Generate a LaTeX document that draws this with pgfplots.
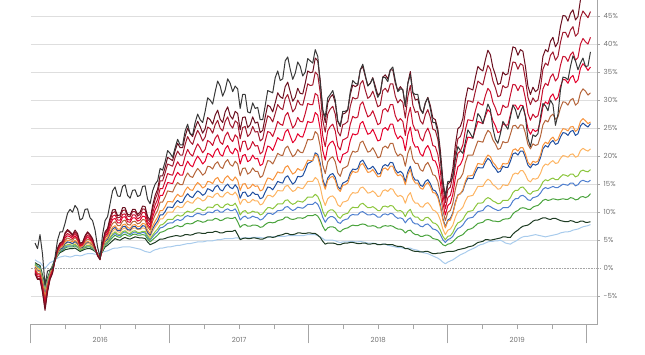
\documentclass[border=0pt]{standalone}
\usepackage{pgfplots}
\pgfplotsset{compat=1.18}
\usepackage{pgfplotstable}
\usepackage{fontspec}
\setmainfont{Poppins}
\definecolor{marc}{HTML}{6B1020}
\definecolor{drec}{HTML}{9E1A2E}
\definecolor{cric}{HTML}{C8102E}
\definecolor{redc}{HTML}{E4002B}
\definecolor{broc}{HTML}{B5653B}
\definecolor{orac}{HTML}{F7923A}
\definecolor{dblc}{HTML}{1F4EA0}
\definecolor{lorc}{HTML}{FDB462}
\definecolor{lgrc}{HTML}{8CC63E}
\definecolor{mblc}{HTML}{4F7FCF}
\definecolor{grec}{HTML}{4AA33D}
\definecolor{dgrc}{HTML}{1D3B22}
\definecolor{lblc}{HTML}{A8CBEC}
\definecolor{blkc}{HTML}{383838}
\pgfplotstableread{
t mar dre cri red bro ora dbl lor lgr mbl gre dgr lbl blk
2016.031 -1.0 -0.8 -0.6 -0.4 -0.2 0.1 0.2 0.4 0.6 0.6 0.8 1.0 1.5 4.5
2016.049 -2.0 -1.8 -1.5 -1.2 -0.9 -0.5 -0.4 -0.1 0.1 0.3 0.4 0.7 1.2 3.5
2016.067 -2.0 -1.8 -1.5 -1.2 -1.0 -0.6 -0.5 -0.3 -0.1 0.1 0.2 0.5 1.0 6.0
2016.085 -4.3 -4.0 -3.6 -3.3 -3.0 -2.6 -2.4 -2.2 -1.9 -1.8 -1.6 -1.2 0.5 2.5
2016.103 -7.5 -7.1 -6.6 -6.1 -5.6 -5.0 -4.7 -4.4 -4.0 -3.8 -3.5 -3.0 0.0 -3.0
2016.121 -4.3 -4.0 -3.8 -3.5 -3.2 -2.9 -2.7 -2.5 -2.3 -2.2 -2.0 -1.7 0.5 -0.5
2016.139 -2.0 -1.9 -1.7 -1.5 -1.4 -1.2 -1.1 -1.0 -0.8 -0.8 -0.7 -0.5 1.0 -0.3
2016.157 -0.9 -0.8 -0.6 -0.4 -0.3 -0.1 -0.1 0.1 0.2 0.2 0.3 0.5 1.2 0.0
2016.175 1.5 1.5 1.5 1.5 1.5 1.5 1.5 1.5 1.5 1.5 1.5 1.5 1.5 2.0
2016.193 3.6 3.5 3.3 3.2 3.0 2.8 2.7 2.6 2.5 2.4 2.3 2.2 1.8 5.0
2016.211 4.5 4.4 4.2 4.0 3.8 3.6 3.4 3.3 3.2 3.1 3.0 2.8 2.0 6.5
2016.229 4.8 4.7 4.5 4.3 4.1 3.9 3.6 3.6 3.5 3.3 3.2 3.0 2.1 6.5
2016.247 6.3 6.1 5.7 5.4 5.0 4.7 4.4 4.3 4.0 3.8 3.6 3.3 2.2 8.0
2016.265 6.9 6.7 6.2 5.8 5.4 5.0 4.7 4.6 4.2 4.0 3.8 3.4 2.1 9.8
2016.283 6.5 6.3 5.9 5.6 5.2 4.9 4.6 4.5 4.2 4.0 3.8 3.5 2.0 10.5
2016.301 6.0 5.8 5.6 5.3 5.0 4.7 4.4 4.4 4.1 4.0 3.8 3.5 2.1 10.0
2016.319 6.8 6.5 6.2 5.8 5.5 5.0 4.8 4.6 4.3 4.2 4.0 3.6 2.3 11.2
2016.337 6.2 5.9 5.6 5.2 5.0 4.6 4.4 4.2 3.9 3.8 3.7 3.3 2.3 10.6
2016.355 4.5 4.4 4.2 4.0 3.9 3.7 3.6 3.5 3.3 3.3 3.2 3.0 2.2 8.6
2016.373 4.6 4.5 4.3 4.2 4.1 3.9 3.7 3.7 3.5 3.5 3.4 3.2 2.3 8.9
2016.391 5.8 5.6 5.3 5.1 4.8 4.5 4.3 4.2 3.9 3.8 3.7 3.4 2.5 10.5
2016.409 6.5 6.3 5.9 5.6 5.2 4.8 4.7 4.4 4.1 4.0 3.8 3.5 2.6 10.6
2016.427 6.0 5.8 5.5 5.2 5.0 4.6 4.5 4.3 4.1 4.0 3.8 3.5 2.6 9.0
2016.445 5.3 5.1 4.9 4.7 4.5 4.2 4.1 3.9 3.7 3.6 3.5 3.3 2.6 8.5
2016.463 3.8 3.7 3.6 3.6 3.5 3.4 3.3 3.3 3.2 3.1 3.1 3.0 2.5 6.8
2016.481 2.2 2.3 2.3 2.4 2.4 2.5 2.4 2.5 2.5 2.5 2.5 2.6 2.6 3.8
2016.499 1.5 1.6 1.6 1.7 1.8 1.9 1.9 2.0 2.0 2.1 2.1 2.2 2.7 2.0
2016.517 4.5 4.4 4.2 4.0 3.9 3.7 3.6 3.5 3.3 3.3 3.2 3.0 2.9 6.0
2016.535 6.5 6.3 6.0 5.7 5.4 5.0 4.8 4.7 4.4 4.3 4.1 3.8 3.0 8.5
2016.553 7.1 6.9 6.6 6.2 5.9 5.5 5.2 5.1 4.8 4.7 4.5 4.1 3.1 9.2
2016.571 9.0 8.6 8.1 7.6 7.1 6.5 6.2 5.9 5.5 5.3 5.0 4.5 3.3 11.5
2016.589 10.4 9.9 9.3 8.7 8.0 7.3 7.0 6.6 6.1 5.9 5.5 4.9 3.5 13.8
2016.607 10.5 10.1 9.5 8.9 8.3 7.6 7.3 7.0 6.5 6.2 5.9 5.3 3.6 14.5
2016.625 9.4 9.0 8.6 8.1 7.6 7.0 6.7 6.5 6.1 5.9 5.6 5.1 3.6 12.9
2016.643 9.5 9.1 8.6 8.1 7.6 7.0 6.7 6.4 6.0 5.8 5.5 5.0 3.7 12.8
2016.661 10.8 10.3 9.6 9.1 8.4 7.7 7.4 7.0 6.5 6.3 5.9 5.3 3.8 14.6
2016.679 10.8 10.4 9.7 9.2 8.6 7.9 7.5 7.2 6.7 6.5 6.1 5.5 3.8 14.9
2016.697 9.6 9.3 8.7 8.3 7.8 7.3 6.9 6.7 6.3 6.2 5.8 5.3 3.8 13.0
2016.715 9.5 9.2 8.6 8.2 7.7 7.1 6.8 6.6 6.2 6.0 5.7 5.2 3.8 12.5
2016.733 10.5 10.1 9.5 9.0 8.3 7.7 7.4 7.1 6.6 6.3 6.0 5.4 3.7 13.9
2016.751 10.5 10.1 9.5 9.0 8.4 7.8 7.5 7.2 6.7 6.5 6.1 5.6 3.6 14.0
2016.769 9.6 9.3 8.8 8.4 7.9 7.4 7.0 6.9 6.4 6.2 5.9 5.5 3.5 12.8
2016.787 10.0 9.6 9.1 8.6 8.1 7.5 7.1 6.9 6.4 6.2 5.9 5.4 3.4 13.0
2016.805 11.1 10.6 10.0 9.3 8.7 8.0 7.6 7.2 6.6 6.4 6.0 5.4 3.2 14.6
2016.823 11.0 10.5 9.9 9.2 8.6 7.9 7.5 7.1 6.6 6.3 5.9 5.3 3.0 14.7
2016.841 9.2 8.8 8.3 7.8 7.4 6.8 6.4 6.2 5.8 5.5 5.2 4.7 2.9 12.3
2016.859 8.6 8.2 7.7 7.2 6.8 6.2 5.9 5.6 5.2 5.0 4.7 4.2 2.8 11.5
2016.877 11.2 10.6 9.8 9.1 8.4 7.5 7.0 6.6 5.9 5.6 5.1 4.4 3.1 13.8
2016.895 13.0 12.3 11.3 10.4 9.5 8.4 7.8 7.3 6.5 6.1 5.5 4.6 3.3 15.0
2016.913 14.1 13.4 12.3 11.3 10.3 9.1 8.4 7.9 7.0 6.5 5.9 4.9 3.4 15.6
2016.931 16.5 15.6 14.2 13.0 11.8 10.3 9.5 8.8 7.7 7.2 6.4 5.2 3.6 17.8
2016.949 16.5 15.6 14.2 13.0 11.8 10.3 9.5 8.8 7.8 7.3 6.5 5.2 3.6 17.5
2016.967 18.0 17.0 15.5 14.1 12.7 11.0 10.1 9.4 8.2 7.6 6.7 5.3 3.7 19.0
2016.985 19.8 18.6 16.9 15.3 13.8 11.9 10.9 10.0 8.7 8.0 7.0 5.5 3.8 21.0
2017.003 19.5 18.4 16.7 15.2 13.7 11.9 10.9 10.0 8.7 8.1 7.1 5.6 3.8 20.5
2017.021 19.2 18.2 16.6 15.1 13.6 11.8 10.8 10.0 8.7 8.1 7.2 5.7 3.9 19.8
2017.039 21.0 19.8 18.0 16.3 14.6 12.6 11.6 10.7 9.2 8.5 7.5 5.8 4.0 21.5
2017.057 22.3 20.9 19.0 17.1 15.3 13.2 12.1 11.1 9.5 8.7 7.6 5.8 4.1 23.0
2017.075 21.5 20.2 18.3 16.6 14.9 12.8 11.7 10.8 9.3 8.5 7.4 5.7 4.1 22.0
2017.093 21.5 20.2 18.3 16.6 14.9 12.9 11.8 10.9 9.4 8.7 7.5 5.8 4.2 22.0
2017.111 23.5 22.1 20.0 18.1 16.2 13.9 12.7 11.6 9.9 9.2 7.9 6.0 4.3 24.5
2017.129 25.0 23.5 21.2 19.1 17.0 14.5 13.3 12.0 10.2 9.4 8.0 6.0 4.4 25.7
2017.147 24.0 22.6 20.4 18.4 16.4 14.0 12.8 11.7 10.0 9.2 7.9 5.9 4.4 24.0
2017.165 23.5 22.1 20.0 18.1 16.2 13.9 12.6 11.6 10.0 9.2 8.0 6.0 4.5 23.8
2017.183 25.0 23.5 21.2 19.2 17.1 14.7 13.3 12.2 10.4 9.6 8.3 6.2 4.6 26.0
2017.201 26.2 24.6 22.2 20.0 17.8 15.3 13.8 12.6 10.7 9.8 8.5 6.3 4.7 27.5
2017.219 25.3 23.8 21.5 19.4 17.3 14.9 13.5 12.4 10.6 9.7 8.4 6.3 4.7 26.5
2017.237 24.1 22.7 20.6 18.6 16.6 14.3 13.0 12.0 10.3 9.5 8.2 6.2 4.7 26.0
2017.255 24.9 23.4 21.2 19.1 17.0 14.6 13.3 12.2 10.4 9.6 8.3 6.2 4.8 28.0
2017.273 26.9 25.2 22.8 20.5 18.2 15.5 14.2 12.9 10.9 10.0 8.6 6.4 4.9 30.4
2017.291 26.5 24.9 22.5 20.3 18.1 15.4 14.0 12.8 10.9 10.0 8.6 6.4 4.9 30.0
2017.309 25.7 24.1 21.9 19.8 17.7 15.1 13.7 12.6 10.8 9.9 8.6 6.4 4.9 29.3
2017.327 27.3 25.6 23.2 20.9 18.6 15.9 14.5 13.2 11.3 10.3 8.9 6.6 5.0 31.5
2017.345 28.2 26.4 23.8 21.4 19.0 16.2 14.8 13.4 11.4 10.4 8.8 6.5 5.1 33.4
2017.363 26.6 25.0 22.5 20.3 18.1 15.4 14.0 12.8 10.9 10.0 8.5 6.3 5.1 32.5
2017.381 26.0 24.5 22.1 20.0 17.8 15.2 13.8 12.7 10.8 10.0 8.6 6.3 5.2 30.7
2017.399 27.9 26.2 23.6 21.3 18.9 16.1 14.6 13.3 11.3 10.4 8.9 6.5 5.3 31.8
2017.417 28.8 27.0 24.3 21.9 19.4 16.5 15.0 13.6 11.5 10.6 9.0 6.6 5.3 33.8
2017.435 27.2 25.6 23.1 20.8 18.5 15.9 14.4 13.2 11.2 10.3 8.9 6.6 5.3 33.0
2017.453 26.6 25.0 22.6 20.4 18.2 15.6 14.2 13.1 11.2 10.3 8.9 6.6 5.3 31.5
2017.471 28.0 26.3 23.8 21.4 19.1 16.3 14.9 13.6 11.6 10.6 9.1 6.8 5.4 32.5
2017.489 27.6 25.9 23.3 20.9 18.6 15.7 14.3 12.9 10.8 9.8 8.3 6.0 5.4 32.0
2017.507 24.7 23.1 20.8 18.6 16.5 13.9 12.5 11.4 9.5 8.6 7.3 5.1 5.3 28.5
2017.525 26.9 25.1 22.6 20.1 17.8 15.0 13.5 12.2 10.1 9.1 7.7 5.3 5.4 31.0
2017.543 27.0 25.3 22.7 20.3 17.9 15.1 13.6 12.3 10.3 9.3 7.8 5.4 5.4 31.0
2017.561 25.1 23.5 21.1 19.0 16.8 14.2 12.8 11.7 9.8 8.9 7.5 5.3 5.4 27.9
2017.579 25.6 24.0 21.5 19.3 17.1 14.4 13.0 11.8 9.9 9.0 7.5 5.3 5.4 27.7
2017.597 27.0 25.3 22.6 20.2 17.9 15.0 13.6 12.3 10.2 9.3 7.7 5.4 5.5 29.5
2017.615 25.9 24.3 21.8 19.5 17.3 14.6 13.2 12.0 10.0 9.1 7.7 5.4 5.5 28.5
2017.633 26.1 24.4 21.9 19.6 17.3 14.7 13.2 12.0 10.0 9.0 7.6 5.3 5.5 28.7
2017.651 24.2 22.7 20.4 18.3 16.2 13.8 12.4 11.3 9.5 8.6 7.3 5.2 5.5 26.5
2017.669 24.6 23.1 20.8 18.6 16.5 14.0 12.6 11.5 9.7 8.8 7.4 5.2 5.4 26.5
2017.687 27.0 25.3 22.7 20.3 17.9 15.1 13.6 12.3 10.3 9.3 7.8 5.4 5.4 29.0
2017.705 29.1 27.2 24.4 21.8 19.2 16.1 14.5 13.0 10.8 9.8 8.1 5.6 5.5 31.7
2017.723 28.8 26.9 24.2 21.6 19.1 16.0 14.4 13.0 10.8 9.8 8.2 5.6 5.6 31.5
2017.741 27.9 26.1 23.5 21.0 18.6 15.7 14.0 12.7 10.6 9.6 8.1 5.5 5.6 31.3
2017.759 29.5 27.6 24.7 22.1 19.5 16.4 14.7 13.2 11.0 9.9 8.2 5.6 5.6 34.0
2017.777 31.3 29.2 26.2 23.3 20.5 17.2 15.5 13.9 11.5 10.3 8.5 5.8 5.7 35.2
2017.795 30.6 28.6 25.7 22.9 20.2 17.0 15.3 13.8 11.5 10.3 8.6 5.9 5.7 33.5
2017.813 30.3 28.3 25.5 22.8 20.1 17.0 15.2 13.8 11.5 10.4 8.7 6.0 5.7 33.8
2017.831 32.4 30.3 27.2 24.3 21.4 18.0 16.2 14.6 12.1 10.9 9.1 6.2 5.7 37.0
2017.849 33.2 31.0 27.8 24.8 21.8 18.3 16.5 14.8 12.2 11.0 9.1 6.2 5.8 37.7
2017.867 31.5 29.5 26.4 23.6 20.8 17.5 15.7 14.2 11.7 10.6 8.8 6.0 5.8 35.5
2017.885 29.8 27.9 25.0 22.4 19.9 16.8 15.0 13.7 11.4 10.3 8.7 6.0 5.8 33.7
2017.903 30.5 28.5 25.6 22.9 20.3 17.1 15.4 13.9 11.6 10.5 8.8 6.1 5.8 34.8
2017.921 32.1 30.0 26.9 24.0 21.2 17.8 16.4 14.5 12.0 10.9 9.0 6.3 5.8 36.8
2017.939 31.2 29.2 26.2 23.5 20.7 17.5 16.3 14.3 11.9 10.8 9.0 6.3 5.8 36.0
2017.957 31.1 29.1 26.1 23.4 20.6 17.5 16.5 14.2 11.8 10.7 8.9 6.2 5.8 34.3
2017.975 33.0 30.9 27.6 24.7 21.7 18.3 17.5 14.8 12.2 11.0 9.1 6.2 5.9 35.0
2017.993 35.2 32.9 29.4 26.2 23.0 19.3 18.7 15.5 12.7 11.4 9.4 6.3 6.0 37.4
2018.011 34.9 32.6 29.2 26.0 22.9 19.2 18.9 15.5 12.7 11.4 9.4 6.3 6.0 37.0
2018.029 35.0 32.7 29.2 26.1 23.0 19.2 19.2 15.5 12.7 11.4 9.4 6.2 6.0 36.6
2018.047 37.5 35.0 31.2 27.8 24.4 20.3 20.6 16.2 13.2 11.8 9.6 6.2 6.0 39.0
2018.065 37.0 34.5 30.8 27.3 23.9 19.9 20.3 15.8 12.8 11.4 9.3 5.9 5.8 37.8
2018.083 33.5 31.3 27.9 24.8 21.7 18.1 18.7 14.5 11.8 10.5 8.6 5.5 5.6 33.0
2018.101 28.3 26.4 23.6 21.0 18.4 15.4 15.9 12.4 10.2 9.1 7.5 4.8 5.3 28.2
2018.119 26.0 24.3 21.7 19.3 16.9 14.1 14.5 11.2 9.2 8.2 6.7 4.3 5.0 27.0
2018.137 29.5 27.5 24.5 21.7 19.0 15.7 16.1 12.4 10.1 8.9 7.2 4.5 5.0 30.4
2018.155 30.5 28.4 25.3 22.4 19.6 16.2 16.7 12.8 10.4 9.2 7.4 4.5 5.0 31.0
2018.173 31.0 28.9 25.7 22.7 19.9 16.4 16.9 12.9 10.4 9.2 7.4 4.5 5.0 31.7
2018.191 29.5 27.5 24.5 21.7 19.0 15.7 16.2 12.4 10.0 8.9 7.2 4.4 4.9 30.0
2018.209 26.2 24.4 21.8 19.4 17.0 14.2 14.6 11.3 9.2 8.2 6.7 4.2 4.7 26.3
2018.227 25.3 23.6 21.1 18.8 16.4 13.7 14.1 11.0 8.9 8.0 6.5 4.2 4.6 25.5
2018.245 27.5 25.6 22.9 20.3 17.8 14.8 15.2 11.8 9.5 8.5 6.9 4.4 4.7 28.0
2018.263 27.7 25.8 23.1 20.5 18.0 14.9 15.4 11.9 9.7 8.7 7.1 4.5 4.7 28.0
2018.281 28.2 26.2 23.4 20.8 18.3 15.2 15.7 12.1 9.8 8.8 7.2 4.5 4.7 28.3
2018.299 31.0 28.9 25.7 22.8 19.9 16.5 17.0 13.0 10.5 9.4 7.5 4.6 4.8 31.5
2018.317 32.7 30.5 27.1 24.0 20.9 17.3 17.7 13.5 10.9 9.6 7.7 4.6 4.8 33.5
2018.335 32.4 30.2 26.8 23.8 20.7 17.1 17.6 13.4 10.8 9.5 7.6 4.5 4.7 33.0
2018.353 32.7 30.4 27.0 24.0 20.9 17.2 17.8 13.5 10.8 9.5 7.6 4.4 4.7 32.8
2018.371 35.4 32.9 29.2 25.8 22.4 18.4 19.0 14.3 11.4 10.0 7.8 4.4 4.8 35.4
2018.389 36.0 33.5 29.7 26.2 22.7 18.7 19.3 14.5 11.6 10.1 7.9 4.5 4.7 36.4
2018.407 34.2 31.8 28.3 25.0 21.7 17.9 18.5 14.0 11.2 9.8 7.8 4.5 4.6 34.5
2018.425 32.6 30.3 27.0 23.9 20.7 17.1 17.7 13.4 10.8 9.5 7.5 4.3 4.5 32.5
2018.443 33.0 30.7 27.3 24.1 20.9 17.2 17.8 13.5 10.8 9.5 7.5 4.3 4.5 33.0
2018.461 34.0 31.6 28.1 24.8 21.5 17.6 18.2 13.8 11.0 9.7 7.6 4.4 4.5 33.9
2018.479 32.5 30.3 26.9 23.8 20.7 17.0 17.6 13.4 10.7 9.5 7.5 4.4 4.4 32.0
2018.497 30.9 28.8 25.6 22.7 19.7 16.3 16.8 12.8 10.3 9.1 7.2 4.2 4.3 30.5
2018.515 31.3 29.1 25.9 22.9 19.9 16.4 16.9 12.9 10.3 9.1 7.2 4.2 4.2 31.3
2018.533 34.1 31.7 28.2 24.8 21.5 17.7 18.2 13.8 11.0 9.6 7.5 4.3 4.3 34.1
2018.551 34.5 32.1 28.5 25.1 21.8 17.9 18.5 14.0 11.1 9.7 7.6 4.3 4.3 34.0
2018.569 33.8 31.4 27.9 24.6 21.4 17.5 18.2 13.7 10.9 9.5 7.5 4.2 4.1 33.3
2018.587 35.4 32.9 29.2 25.7 22.3 18.2 18.9 14.2 11.2 9.8 7.6 4.2 4.0 35.4
2018.605 35.4 32.9 29.2 25.7 22.3 18.2 18.8 14.1 11.1 9.7 7.5 4.2 3.9 35.9
2018.623 33.0 30.7 27.2 24.0 20.8 17.1 17.6 13.3 10.5 9.2 7.2 4.0 3.8 33.5
2018.641 31.7 29.5 26.2 23.1 20.0 16.5 17.0 12.8 10.2 8.9 7.0 3.9 3.7 31.5
2018.659 32.4 30.1 26.7 23.6 20.4 16.7 17.3 13.0 10.3 9.0 7.0 3.9 3.7 32.0
2018.677 31.8 29.6 26.2 23.1 20.0 16.3 16.9 12.7 10.0 8.8 6.8 3.8 3.6 31.9
2018.695 28.8 26.8 23.7 21.0 18.2 14.9 15.4 11.6 9.2 8.1 6.3 3.5 3.5 29.0
2018.713 33.0 30.6 27.0 23.8 20.5 16.7 17.2 12.9 10.1 8.7 6.7 3.5 3.6 33.0
2018.731 35.1 32.6 28.7 25.2 21.7 17.6 18.2 13.5 10.5 9.0 6.8 3.3 3.6 34.5
2018.749 31.4 29.1 25.7 22.6 19.5 15.9 16.4 12.2 9.5 8.2 6.3 3.1 3.4 31.3
2018.767 30.0 27.8 24.6 21.6 18.7 15.2 15.7 11.6 9.1 7.9 6.0 3.0 3.3 31.0
2018.785 30.2 28.0 24.7 21.7 18.7 15.2 15.7 11.6 9.1 7.9 6.0 3.0 3.2 31.0
2018.803 28.3 26.3 23.2 20.4 17.6 14.3 14.8 11.0 8.6 7.5 5.7 2.9 3.0 28.5
2018.821 27.7 25.7 22.7 20.0 17.3 14.1 14.6 10.9 8.5 7.4 5.7 2.9 2.8 27.6
2018.839 29.5 27.4 24.2 21.3 18.4 14.9 15.5 11.5 9.0 7.8 5.9 3.0 2.7 29.5
2018.857 30.5 28.3 25.0 21.9 18.9 15.3 15.8 11.7 9.1 7.9 5.9 3.0 2.6 30.4
2018.875 29.0 26.9 23.8 20.9 18.0 14.6 15.1 11.2 8.7 7.5 5.7 2.8 2.4 28.5
2018.893 26.8 24.8 21.9 19.3 16.7 13.5 14.0 10.4 8.1 7.0 5.3 2.6 2.2 26.0
2018.911 26.5 24.6 21.7 19.1 16.5 13.4 13.8 10.2 8.0 6.9 5.2 2.6 2.0 26.0
2018.929 24.8 23.0 20.3 17.9 15.5 12.6 13.0 9.7 7.6 6.6 5.1 2.7 1.8 24.2
2018.947 21.0 19.5 17.3 15.3 13.3 10.9 11.3 8.6 6.8 6.0 4.7 2.7 1.5 20.0
2018.965 15.8 14.7 13.2 11.7 10.3 8.6 8.9 7.0 5.7 5.1 4.2 2.8 1.1 15.3
2018.983 12.5 11.7 10.6 9.5 8.5 7.2 7.4 6.0 5.1 4.6 4.0 2.9 0.8 13.0
2019.001 15.0 14.0 12.6 11.2 10.0 8.4 8.6 6.8 5.7 5.1 4.3 3.0 1.1 15.5
2019.019 15.5 14.5 13.0 11.6 10.3 8.6 8.9 7.0 5.8 5.3 4.4 3.0 1.3 15.5
2019.037 17.8 16.6 14.8 13.2 11.6 9.7 9.9 7.7 6.4 5.7 4.7 3.0 1.5 16.3
2019.055 22.0 20.5 18.2 16.1 14.1 11.6 11.8 9.1 7.4 6.5 5.2 3.1 1.8 19.5
2019.073 24.9 23.1 20.5 18.1 15.8 13.0 13.1 10.1 8.1 7.1 5.6 3.3 2.1 21.7
2019.091 25.3 23.5 20.9 18.5 16.1 13.3 13.3 10.4 8.3 7.3 5.8 3.4 2.4 21.0
2019.109 26.7 24.8 22.0 19.5 16.9 14.0 13.8 10.9 8.7 7.7 6.0 3.5 2.6 20.5
2019.127 30.0 27.9 24.7 21.8 18.9 15.5 15.2 12.0 9.5 8.4 6.5 3.6 2.8 22.5
2019.145 32.2 29.9 26.5 23.4 20.2 16.5 16.1 12.8 10.1 8.9 6.9 3.8 3.1 24.7
2019.163 32.0 29.8 26.4 23.3 20.2 16.5 16.0 12.9 10.2 9.0 7.0 3.9 3.3 24.0
2019.181 31.8 29.6 26.3 23.2 20.2 16.6 16.0 13.0 10.3 9.1 7.2 4.0 3.5 23.2
2019.199 34.0 31.6 28.1 24.8 21.5 17.7 17.1 13.8 11.0 9.6 7.6 4.3 3.7 25.3
2019.217 36.0 33.4 29.7 26.2 22.7 18.7 18.0 14.6 11.6 10.1 8.0 4.6 4.0 27.6
2019.235 35.5 33.0 29.3 26.0 22.6 18.6 17.9 14.6 11.6 10.2 8.1 4.7 4.2 27.0
2019.253 35.2 32.7 29.1 25.8 22.5 18.5 17.9 14.6 11.7 10.3 8.2 4.8 4.3 25.8
2019.271 37.2 34.6 30.8 27.2 23.7 19.5 18.9 15.4 12.3 10.9 8.6 5.1 4.5 27.5
2019.289 38.9 36.2 32.1 28.3 24.6 20.2 19.6 15.9 12.6 11.2 8.7 5.1 4.7 29.3
2019.307 38.1 35.5 31.5 27.8 24.2 19.9 19.2 15.6 12.4 11.0 8.6 5.0 4.8 28.3
2019.325 35.8 33.4 29.6 26.3 22.9 18.9 18.3 14.9 12.0 10.7 8.4 5.1 4.8 25.0
2019.343 34.5 32.2 28.6 25.4 22.2 18.4 17.8 14.6 11.8 10.5 8.4 5.2 4.9 23.0
2019.361 32.8 30.6 27.3 24.2 21.2 17.7 17.1 14.1 11.5 10.3 8.3 5.3 4.9 22.3
2019.379 33.0 30.8 27.5 24.4 21.4 17.8 17.3 14.2 11.6 10.4 8.4 5.4 5.0 24.0
2019.397 35.0 32.6 29.1 25.8 22.6 18.7 18.2 14.9 12.1 10.8 8.7 5.6 4.8 26.2
2019.415 34.5 32.2 28.7 25.5 22.4 18.6 18.0 14.8 12.1 10.8 8.8 5.6 4.5 25.5
2019.433 34.7 32.4 28.8 25.6 22.5 18.7 18.0 14.8 12.1 10.8 8.8 5.5 4.4 24.8
2019.451 37.2 34.7 30.9 27.4 23.9 19.8 19.1 15.6 12.6 11.2 9.0 5.5 4.3 27.0
2019.469 39.5 36.8 32.8 29.1 25.4 21.1 20.4 16.7 13.5 12.0 9.7 6.1 4.6 29.1
2019.487 39.3 36.7 32.7 29.1 25.5 21.3 20.6 17.0 13.9 12.4 10.1 6.5 4.8 28.3
2019.505 38.0 35.5 31.7 28.3 24.9 20.9 20.2 16.8 13.9 12.4 10.3 6.8 5.1 26.7
2019.523 39.0 36.5 32.6 29.1 25.6 21.5 20.9 17.4 14.4 12.9 10.7 7.2 5.4 28.0
2019.541 38.7 36.2 32.4 29.0 25.5 21.5 20.9 17.4 14.5 13.0 10.8 7.5 5.6 28.9
2019.559 36.0 33.7 30.3 27.2 24.1 20.4 19.8 16.7 14.0 12.7 10.7 7.6 5.7 27.0
2019.577 32.5 30.5 27.6 24.9 22.1 18.9 18.4 15.7 13.4 12.2 10.5 7.7 5.7 23.1
2019.595 31.0 29.2 26.4 23.9 21.3 18.4 17.9 15.4 13.2 12.1 10.5 8.0 5.8 21.7
2019.613 32.3 30.4 27.5 24.8 22.2 19.1 18.6 16.0 13.7 12.6 10.9 8.4 5.9 23.8
2019.631 31.5 29.7 26.9 24.4 21.9 18.9 18.4 15.9 13.8 12.7 11.1 8.6 6.0 23.5
2019.649 31.9 30.0 27.2 24.7 22.1 19.1 18.6 16.1 13.9 12.9 11.2 8.6 5.9 24.0
2019.667 34.2 32.2 29.1 26.3 23.5 20.2 19.7 16.9 14.5 13.4 11.6 8.8 5.8 27.0
2019.685 37.8 35.5 32.0 28.8 25.6 21.9 21.3 18.1 15.4 14.1 12.1 9.0 5.7 29.4
2019.703 39.0 36.6 33.0 29.7 26.4 22.5 21.9 18.6 15.8 14.4 12.3 9.0 5.6 29.0
2019.721 38.6 36.2 32.6 29.3 26.1 22.2 21.6 18.4 15.6 14.2 12.1 8.8 5.7 28.1
2019.739 40.5 38.0 34.1 30.6 27.1 23.0 22.4 18.9 15.9 14.4 12.2 8.7 5.8 30.0
2019.757 41.2 38.6 34.7 31.1 27.5 23.4 22.8 19.2 16.1 14.6 12.4 8.9 5.9 29.2
2019.775 39.5 37.1 33.4 30.0 26.6 22.7 22.1 18.7 15.8 14.4 12.3 8.9 6.0 25.5
2019.793 40.3 37.8 34.0 30.5 27.0 23.0 22.3 18.8 15.8 14.4 12.2 8.7 6.1 27.4
2019.811 43.1 40.3 36.2 32.4 28.6 24.1 23.4 19.6 16.3 14.7 12.3 8.5 6.3 31.8
2019.829 45.1 42.1 37.8 33.7 29.7 24.9 24.2 20.1 16.7 15.0 12.4 8.4 6.4 34.1
2019.847 45.0 42.1 37.7 33.6 29.6 24.8 24.1 20.0 16.6 14.9 12.3 8.3 6.5 34.0
2019.865 44.1 41.2 36.9 33.0 29.1 24.5 23.7 19.8 16.4 14.8 12.3 8.3 6.5 33.6
2019.883 45.5 42.5 38.1 34.0 30.0 25.2 24.4 20.3 16.8 15.2 12.6 8.5 6.6 36.0
2019.901 46.1 43.1 38.6 34.4 30.3 25.3 24.6 20.4 16.8 15.2 12.5 8.4 6.8 37.9
2019.919 44.3 41.4 37.1 33.1 29.1 24.4 23.7 19.8 16.3 14.7 12.2 8.2 6.9 37.0
2019.937 44.9 41.9 37.6 33.6 29.5 24.8 24.0 20.0 16.5 14.9 12.3 8.2 7.0 35.4
2019.955 47.9 44.7 40.0 35.7 31.3 26.2 25.4 21.0 17.3 15.5 12.7 8.4 7.2 36.6
2019.973 49.2 45.9 41.0 36.5 32.0 26.7 25.9 21.4 17.5 15.7 12.8 8.4 7.4 37.5
2019.991 48.5 45.3 40.4 36.0 31.6 26.3 25.5 21.1 17.3 15.5 12.6 8.2 7.5 36.0
2020.009 48.0 44.7 40.0 35.3 30.9 25.8 25.2 20.9 17.2 15.4 12.8 8.2 7.6 36.1
2020.027 49.5 45.8 41.2 35.9 31.3 26.1 25.8 21.3 17.6 15.7 13.3 8.3 7.8 38.6
}\data
\begin{document}
\begin{tikzpicture}
\path[use as bounding box] (0,0) rectangle (645pt,355pt);
\begin{axis}[
  at={(30.7pt,30.7pt)}, anchor=south west,
  scale only axis, width=567pt, height=324.3pt,
  xmin=2016, xmax=2020.079, ymin=-10, ymax=47.86,
  axis x line*=bottom, axis y line*=right,
  axis line style={draw=black!35, line width=0.7pt},
  tick align=outside,
  major tick length=2.5pt, minor tick length=5pt,
  xtick={2016.5,2017.5,2018.5,2019.5},
  xticklabels={2016,2017,2018,2019},
  major x tick style={draw=none},
  minor xtick={2016.25,2016.5,2016.75,2017.25,2017.5,2017.75,2018.25,2018.5,2018.75,2019.25,2019.5,2019.75},
  minor x tick style={draw=black!35, line width=0.7pt},
  extra x ticks={2016,2017,2018,2019,2020},
  extra x tick labels={},
  extra x tick style={major tick length=19pt, major x tick style={draw=black!35, line width=0.7pt}},
  xticklabel style={yshift=-7pt},
  ytick={-5,5,10,15,20,25,30,35,40,45},
  yticklabels={-5\%,5\%,10\%,15\%,20\%,25\%,30\%,35\%,40\%,45\%},
  extra y ticks={0}, extra y tick labels={0\%},
  extra y tick style={grid style={draw=black!35, densely dotted, line width=0.6pt}, major y tick style={draw=black!35, densely dotted}},
  major y tick style={draw=black!35, line width=0.6pt},
  ymajorgrids, grid style={draw=black!13, line width=0.6pt},
  tick label style={font=\fontsize{7}{8}\selectfont, text=black!55},
  every axis plot/.append style={line width=1pt, line join=round, no markers},
]
\addplot[lblc] table[x=t,y=lbl]{\data};
\addplot[dgrc] table[x=t,y=dgr]{\data};
\addplot[grec] table[x=t,y=gre]{\data};
\addplot[mblc] table[x=t,y=mbl]{\data};
\addplot[lgrc] table[x=t,y=lgr]{\data};
\addplot[lorc] table[x=t,y=lor]{\data};
\addplot[dblc] table[x=t,y=dbl]{\data};
\addplot[orac] table[x=t,y=ora]{\data};
\addplot[broc] table[x=t,y=bro]{\data};
\addplot[redc] table[x=t,y=red]{\data};
\addplot[cric] table[x=t,y=cri]{\data};
\addplot[drec] table[x=t,y=dre]{\data};
\addplot[marc] table[x=t,y=mar]{\data};
\addplot[blkc] table[x=t,y=blk]{\data};
\end{axis}
\end{tikzpicture}
\end{document}
